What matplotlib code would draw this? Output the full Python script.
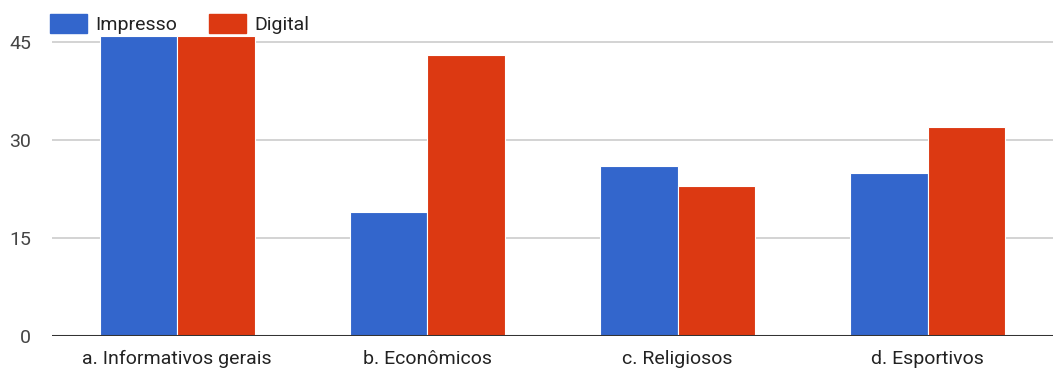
import matplotlib
matplotlib.use("Agg")
import matplotlib.pyplot as plt
from matplotlib.patches import Patch
import numpy as np

categories = ["a. Informativos gerais", "b. Econômicos", "c. Religiosos", "d. Esportivos"]
impresso = [46, 19, 26, 25]
digital = [46, 43, 23, 32]
yticks = [0, 15, 30, 45]

BLUE = "#3366CC"
RED = "#DC3912"

plt.rcParams["font.family"] = ["Roboto", "DejaVu Sans"]

W, H = 1053, 370
fig = plt.figure(figsize=(W / 100, H / 100), dpi=100)
ax = fig.add_axes([52 / W, 34 / H, 1 - 52 / W, (336 - 35.6) / H])

x = np.arange(len(categories))
bw = 0.31
ax.bar(x - bw / 2, impresso, bw, color=BLUE, edgecolor="white", linewidth=0.8, zorder=3)
ax.bar(x + bw / 2, digital, bw, color=RED, edgecolor="white", linewidth=0.8, zorder=3)

ax.set_xlim(-0.5, len(categories) - 0.5)
ax.set_ylim(0, 46)
ax.set_yticks(yticks)
ax.set_yticklabels([str(v) for v in yticks], fontsize=14, color="#444444")
ax.set_xticks(x)
ax.set_xticklabels(categories, fontsize=14, color="#222222")
ax.tick_params(axis="both", length=0)
ax.tick_params(axis="y", pad=15)
ax.tick_params(axis="x", pad=10)

for v in yticks[1:]:
    ax.axhline(v, color="#CCCCCC", linewidth=1.2, zorder=1)
ax.axhline(0, color="#333333", linewidth=2.2, zorder=4)

for s in ax.spines.values():
    s.set_visible(False)

handles = [Patch(facecolor=BLUE, edgecolor=BLUE), Patch(facecolor=RED, edgecolor=RED)]
fig.legend(handles, ["Impresso", "Digital"], loc="upper left",
           bbox_to_anchor=(50 / W, 1 - 14 / H), ncol=2, frameon=False,
           borderpad=0, borderaxespad=0,
           fontsize=14, handlelength=1.9, handleheight=1.15, handletextpad=0.45,
           columnspacing=1.6, labelcolor="#222222")

fig.savefig("out.png", dpi=100)
